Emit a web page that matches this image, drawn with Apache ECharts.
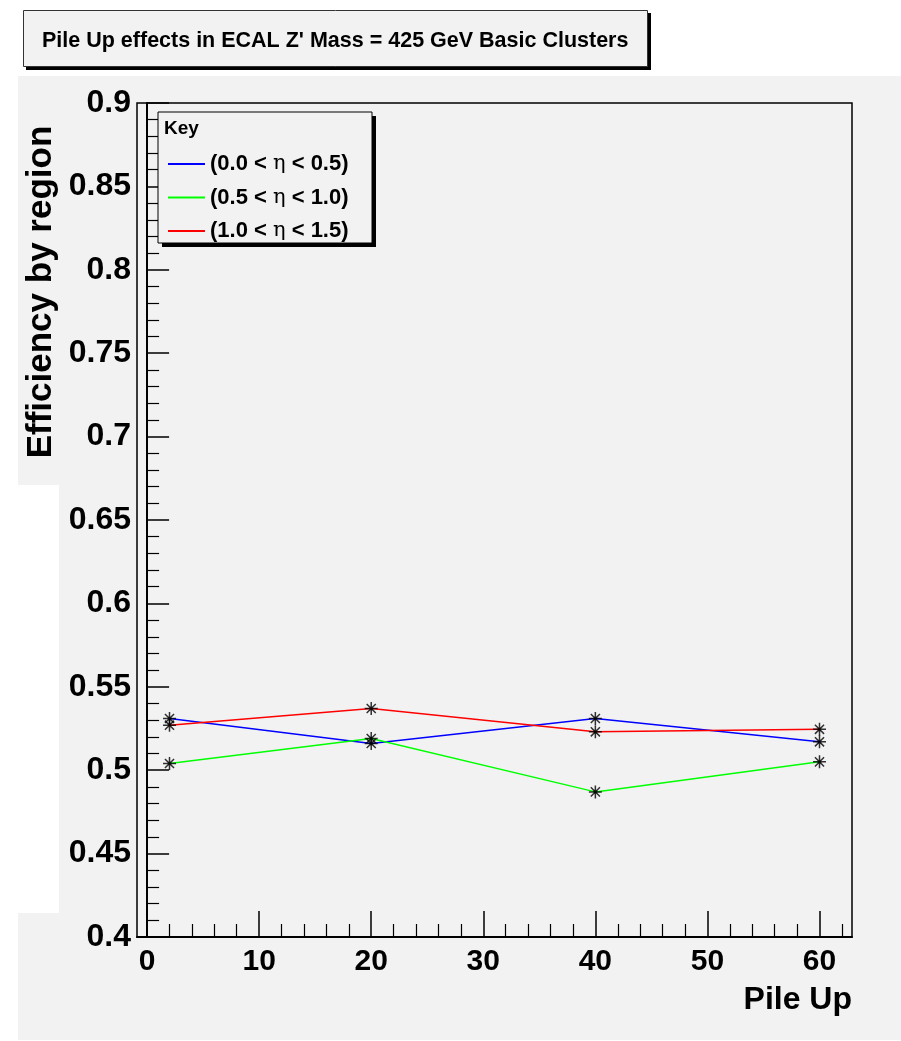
<!DOCTYPE html>
<html>
<head>
<meta charset="utf-8">
<title>Pile Up effects in ECAL</title>
<script src="https://cdn.jsdelivr.net/npm/echarts@6/dist/echarts.min.js"></script>
<style>
  html, body { margin: 0; padding: 0; background: #fff; }
  #main { width: 901px; height: 1041px; }
</style>
</head>
<body>
<div id="main"></div>
<script>
// data
var pileUp = [2, 20, 40, 60];
var regionNames = ['(0.0 < η < 0.5)', '(0.5 < η < 1.0)', '(1.0 < η < 1.5)'];
var effRegion1 = [0.531, 0.516, 0.531, 0.517];
var effRegion2 = [0.504, 0.519, 0.487, 0.505];
var effRegion3 = [0.527, 0.537, 0.523, 0.5245];
var regionColors = ['#0000ff', '#00ff00', '#ff0000'];

// tick positions
var xMajorTicks = [0, 10, 20, 30, 40, 50, 60];
var xMinorTicks = [2, 4, 6, 8, 12, 14, 16, 18, 22, 24, 26, 28, 32, 34, 36, 38,
                   42, 44, 46, 48, 52, 54, 56, 58, 62];

var SANS = '"Liberation Sans", Arial, sans-serif';
var BG = '#f2f2f2';

// ROOT style "*" marker
var asterisk = 'path://M6,0V12M0,6H12M1.8,1.8L10.2,10.2M1.8,10.2L10.2,1.8M4.8,4.8H7.2V7.2H4.8Z';

var myChart = echarts.init(document.getElementById('main'));

var allEff = [effRegion1, effRegion2, effRegion3];
var series = [];
allEff.forEach(function (vals, i) {
    series.push({
        name: regionNames[i],
        type: 'line',
        symbol: 'none',
        data: pileUp.map(function (x, j) { return [x, vals[j]]; }),
        lineStyle: { color: regionColors[i], width: 1.5 },
        itemStyle: { color: regionColors[i] },
        z: 2
    });
});
allEff.forEach(function (vals, i) {
    series.push({
        name: 'markers' + i,
        type: 'scatter',
        symbol: asterisk,
        symbolSize: 13,
        data: pileUp.map(function (x, j) { return [x, vals[j]]; }),
        itemStyle: { color: '#000', borderColor: '#000', borderWidth: 1.5 },
        z: 3
    });
});

var option = {
    backgroundColor: '#fff',
    animation: false,
    title: {
        text: "Pile Up effects in ECAL Z' Mass = 425 GeV Basic Clusters",
        left: 23,
        top: 10,
        z: 10,
        padding: [20, 19, 15, 19],
        backgroundColor: BG,
        borderColor: '#333',
        borderWidth: 1,
        textStyle: { fontFamily: SANS, fontWeight: 'bold', fontSize: 21.5, color: '#000' }
    },
    legend: {
        data: regionNames,
        orient: 'vertical',
        left: 167,
        top: 153,
        padding: 0,
        itemWidth: 37,
        itemHeight: 14,
        itemGap: 11.5,
        z: 10,
        itemStyle: { opacity: 0 },
        formatter: function (name) {
            var parts = name.split('η');
            return '{t|' + parts[0] + '}{eta|η}{t|' + parts[1] + '}';
        },
        textStyle: {
            rich: {
                t: { fontFamily: SANS, fontWeight: 'bold', fontSize: 22, color: '#000' },
                eta: { fontFamily: '"DejaVu Serif", "Liberation Serif", serif', fontSize: 21, color: '#000' }
            }
        }
    },
    graphic: [
        { type: 'rect', z: -100, silent: true,
          shape: { x: 18, y: 76, width: 883, height: 964 }, style: { fill: BG } },
        { type: 'rect', z: -99, silent: true,
          shape: { x: 18, y: 485, width: 41, height: 428 }, style: { fill: '#fff' } },
        // title box shadow
        { type: 'rect', z: -50, silent: true,
          shape: { x: 26, y: 13, width: 625, height: 57 }, style: { fill: '#000' } },
        // legend box with its shadow
        { type: 'rect', z: 4, silent: true,
          shape: { x: 162, y: 116, width: 214, height: 131 }, style: { fill: '#000' } },
        { type: 'rect', z: 5, silent: true,
          shape: { x: 158, y: 112, width: 214, height: 131 },
          style: { fill: BG, stroke: '#000', lineWidth: 1 } },
        { type: 'text', z: 6, silent: true, x: 164, y: 119,
          style: { text: 'Key', font: 'bold 19px ' + SANS, fill: '#000' } },
        // y axis title, rotated like ROOT draws it
        { type: 'text', z: 6, silent: true, x: 24, y: 292, rotation: Math.PI / 2,
          style: { text: 'Efficiency by region', font: 'bold 35px ' + SANS, fill: '#000',
                   textAlign: 'center', textVerticalAlign: 'top' } }
    ],
    grid: {
        left: 137,
        top: 103,
        right: 49,
        bottom: 104,
        outerBoundsMode: 'none',
        containLabel: false,
        show: true,
        backgroundColor: BG,
        borderColor: '#000',
        borderWidth: 1.5
    },
    xAxis: [{
        type: 'value',
        min: -0.9,
        max: 62.9,
        position: 'bottom',
        name: 'Pile Up',
        nameLocation: 'end',
        nameGap: 0,
        nameTextStyle: {
            fontFamily: SANS, fontWeight: 'bold', fontSize: 32, color: '#000',
            align: 'right', verticalAlign: 'top', padding: [47, 0, 0, 0]
        },
        splitLine: { show: false },
        axisLine: { lineStyle: { color: '#000', width: 2 } },
        axisTick: { inside: true, length: 26, customValues: xMajorTicks,
                    lineStyle: { color: '#000', width: 1.5 } },
        axisLabel: { customValues: xMajorTicks, margin: 10,
                     fontFamily: SANS, fontWeight: 'bold', fontSize: 30, color: '#000' }
    }, {
        type: 'value',
        min: -0.9,
        max: 62.9,
        position: 'bottom',
        splitLine: { show: false },
        axisLine: { show: false },
        axisTick: { inside: true, length: 13, customValues: xMinorTicks,
                    lineStyle: { color: '#000', width: 1.2 } },
        axisLabel: { show: false }
    }],
    yAxis: {
        type: 'value',
        min: 0.4,
        max: 0.9,
        interval: 0.05,
        splitLine: { show: false },
        axisLine: { lineStyle: { color: '#000', width: 2 } },
        axisTick: { inside: true, length: 22, lineStyle: { color: '#000', width: 1.5 } },
        minorTick: { show: true, splitNumber: 5, length: 12, lineStyle: { color: '#000', width: 1.2 } },
        minorSplitLine: { show: false },
        axisLabel: { margin: 6, showMinLabel: true, showMaxLabel: true, padding: [8, 0, 0, 0],
                     fontFamily: SANS, fontWeight: 'bold', fontSize: 32, color: '#000' }
    },
    series: series
};

myChart.setOption(option);
</script>
</body>
</html>
